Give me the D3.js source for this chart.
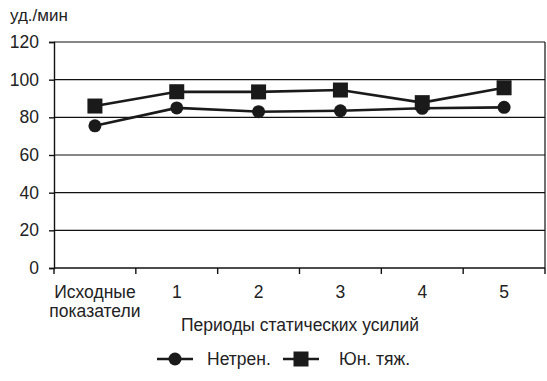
<!DOCTYPE html>
<html lang="ru">
<head>
<meta charset="UTF-8">
<title>Chart</title>
<style>
  body { margin: 0; background: #fff; }
  text { font-family: "Liberation Sans", Arial, sans-serif; fill: #222; }
</style>
</head>
<body>
<div id="chart"></div>
<script src="https://d3js.org/d3.v7.min.js"></script>
<script>
var categories = ["Исходные показатели", "1", "2", "3", "4", "5"];
var netren = [75.5, 85, 83, 83.5, 84.8, 85.3];
var yunTyazh = [86, 93.6, 93.5, 94.5, 87.8, 95.7];
var yTicks = [0, 20, 40, 60, 80, 100, 120];

var W = 547, H = 381;
var margin = { top: 42, right: 2, bottom: 113, left: 54 };
var width = W - margin.left - margin.right;
var height = H - margin.top - margin.bottom;
var fs = "17.5px";

var svg = d3.select("#chart").append("svg")
    .attr("width", W)
    .attr("height", H);

var g = svg.append("g")
    .attr("transform", "translate(" + margin.left + "," + margin.top + ")");

var x = d3.scaleBand().domain(categories).range([0, width]);
var y = d3.scaleLinear().domain([0, 120]).range([height, 0]);

// gridlines
g.selectAll(".grid")
    .data(yTicks.slice(1))
    .enter().append("line")
    .attr("x1", 0).attr("x2", width)
    .attr("y1", function(d){ return y(d); })
    .attr("y2", function(d){ return y(d); })
    .style("stroke", "#111")
    .style("stroke-width", 1.2);

// right border
g.append("line")
    .attr("x1", width).attr("x2", width)
    .attr("y1", 0).attr("y2", height)
    .style("stroke", "#111").style("stroke-width", 1.2);

// y axis
var yAxis = d3.axisLeft(y).tickValues(yTicks).tickSize(5).tickPadding(10);
var yG = g.append("g").call(yAxis);
yG.select(".domain").style("stroke", "#111").style("stroke-width", 1.4);
yG.selectAll("line").style("stroke", "#111").style("stroke-width", 1.4);
yG.selectAll("text").style("font-size", fs).style("fill", "#222")
    .style("font-family", "Liberation Sans, Arial, sans-serif");

// x axis with ticks at band edges
var xG = g.append("g").attr("transform", "translate(0," + height + ")");
xG.append("line").attr("x1", 0).attr("x2", width)
    .style("stroke", "#111").style("stroke-width", 1.4);
var edges = categories.map(function(c){ return x(c); }).concat([width]);
xG.selectAll(".tk").data(edges).enter().append("line")
    .attr("x1", function(d){ return d; }).attr("x2", function(d){ return d; })
    .attr("y1", 0).attr("y2", 6)
    .style("stroke", "#111").style("stroke-width", 1.4);

xG.selectAll(".lbl").data(categories).enter().append("text")
    .attr("x", function(d){ return x(d) + x.bandwidth() / 2; })
    .attr("y", 30)
    .attr("text-anchor", "middle")
    .style("font-size", fs)
    .each(function(d){
        var parts = d.split(" ");
        var t = d3.select(this);
        parts.forEach(function(p, i){
            t.append("tspan")
                .attr("x", x(d) + x.bandwidth() / 2)
                .attr("dy", i === 0 ? 0 : 19)
                .text(p);
        });
    });

// axis titles
svg.append("text").attr("x", 10).attr("y", 21)
    .style("font-size", "17px").text("уд./мин");
svg.append("text").attr("x", 300).attr("y", 331)
    .attr("text-anchor", "middle")
    .style("font-size", fs).text("Периоды статических усилий");

// lines
var line = d3.line()
    .x(function(d, i){ return x(categories[i]) + x.bandwidth() / 2; })
    .y(function(d){ return y(d); });

g.append("path").datum(netren).attr("d", line)
    .style("fill", "none").style("stroke", "#1a1a1a").style("stroke-width", 2.6);
g.append("path").datum(yunTyazh).attr("d", line)
    .style("fill", "none").style("stroke", "#1a1a1a").style("stroke-width", 2.6);

g.selectAll(".c").data(netren).enter().append("circle")
    .attr("cx", function(d, i){ return x(categories[i]) + x.bandwidth() / 2; })
    .attr("cy", function(d){ return y(d); })
    .attr("r", 6.5)
    .style("fill", "#1a1a1a");

var s = 15;
g.selectAll(".s").data(yunTyazh).enter().append("rect")
    .attr("x", function(d, i){ return x(categories[i]) + x.bandwidth() / 2 - s / 2; })
    .attr("y", function(d){ return y(d) - s / 2; })
    .attr("width", s).attr("height", s)
    .style("fill", "#1a1a1a");

// legend
var lg = svg.append("g").attr("transform", "translate(0,359)");
lg.append("line").attr("x1", 157).attr("x2", 193).attr("y1", 0).attr("y2", 0)
    .style("stroke", "#1a1a1a").style("stroke-width", 2.6);
lg.append("circle").attr("cx", 175).attr("cy", 0).attr("r", 6.5).style("fill", "#1a1a1a");
lg.append("text").attr("x", 207).attr("y", 6).style("font-size", fs).text("Нетрен.");

lg.append("line").attr("x1", 283).attr("x2", 319).attr("y1", 0).attr("y2", 0)
    .style("stroke", "#1a1a1a").style("stroke-width", 2.6);
lg.append("rect").attr("x", 301 - s / 2).attr("y", -s / 2).attr("width", s).attr("height", s)
    .style("fill", "#1a1a1a");
lg.append("text").attr("x", 339).attr("y", 6).style("font-size", fs).text("Юн. тяж.");
</script>
</body>
</html>
